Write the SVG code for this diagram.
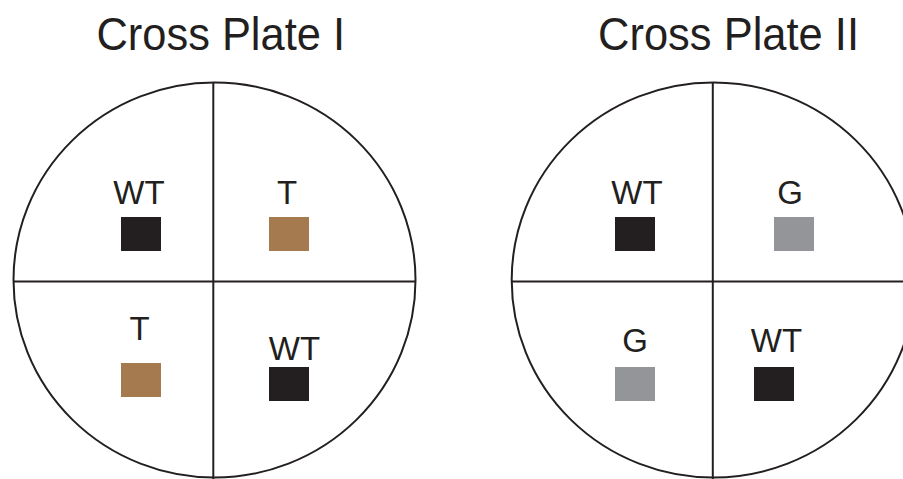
<svg xmlns="http://www.w3.org/2000/svg" width="903" height="479" viewBox="0 0 903 479">
  <style>
    .plate { fill: none; stroke: #231f20; stroke-width: 2; }
    .title { font-family: "Liberation Sans", Arial, sans-serif; font-size: 47px; fill: #231f20; }
    .label { font-family: "Liberation Sans", Arial, sans-serif; font-size: 33px; fill: #231f20; text-anchor: middle; }
    .wt { fill: #231f20; }
    .t { fill: #a67a4f; }
    .g { fill: #939598; }
  </style>
  <rect width="903" height="479" fill="#ffffff"/>

  <!-- Plate I -->
  <g id="plate1">
    <text class="title" x="96.5" y="50" textLength="248.5" lengthAdjust="spacingAndGlyphs">Cross Plate I</text>
    <ellipse class="plate" cx="214.5" cy="280" rx="201" ry="197.5"/>
    <line class="plate" x1="213.3" y1="82.5" x2="213.3" y2="479"/>
    <line class="plate" x1="13.5" y1="281.5" x2="415.5" y2="281.5"/>
  </g>
  <g id="p1-q1">
    <text class="label" x="139" y="204">WT</text>
    <rect class="wt" x="121" y="217" width="40" height="34"/>
  </g>
  <g id="p1-q2">
    <text class="label" x="287" y="204">T</text>
    <rect class="t" x="269" y="217" width="40" height="34"/>
  </g>
  <g id="p1-q3">
    <text class="label" x="139.5" y="340">T</text>
    <rect class="t" x="121" y="363" width="40" height="34"/>
  </g>
  <g id="p1-q4">
    <text class="label" x="294.5" y="359.5">WT</text>
    <rect class="wt" x="269" y="367" width="40" height="34"/>
  </g>

  <!-- Plate II -->
  <g id="plate2">
    <text class="title" x="598" y="50" textLength="261" lengthAdjust="spacingAndGlyphs">Cross Plate II</text>
    <ellipse class="plate" cx="713.3" cy="280" rx="201.6" ry="197.5"/>
    <line class="plate" x1="712.8" y1="82.5" x2="712.8" y2="479"/>
    <line class="plate" x1="511.7" y1="281.5" x2="903" y2="281.5"/>
  </g>
  <g id="p2-q1">
    <text class="label" x="637" y="204">WT</text>
    <rect class="wt" x="615" y="217" width="40" height="34"/>
  </g>
  <g id="p2-q2">
    <text class="label" x="790" y="204">G</text>
    <rect class="g" x="774" y="217" width="40" height="34"/>
  </g>
  <g id="p2-q3">
    <text class="label" x="635" y="352">G</text>
    <rect class="g" x="615" y="367" width="40" height="34"/>
  </g>
  <g id="p2-q4">
    <text class="label" x="776.5" y="352">WT</text>
    <rect class="wt" x="754" y="367" width="40" height="34"/>
  </g>
</svg>
